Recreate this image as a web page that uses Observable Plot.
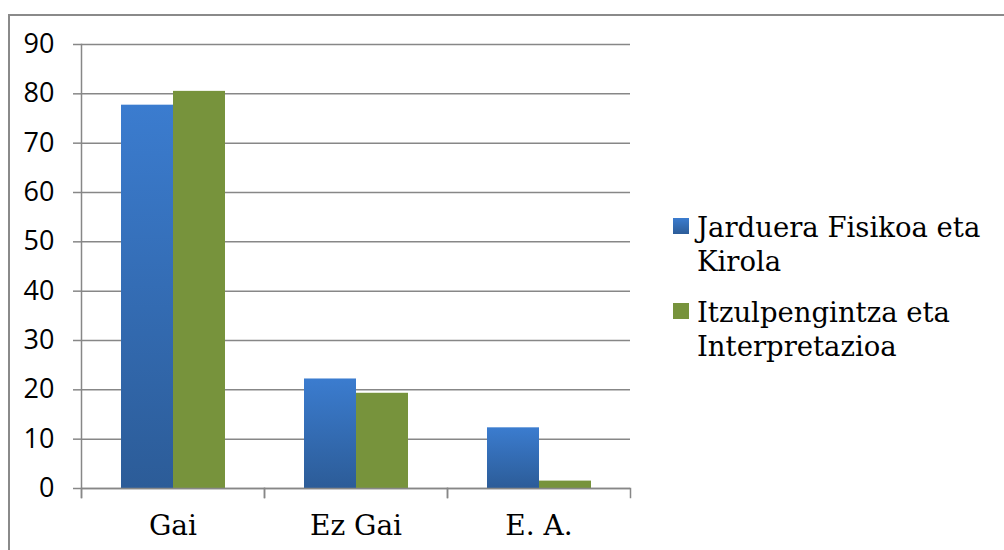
<!DOCTYPE html>
<html>
<head>
<meta charset="utf-8">
<script src="https://cdn.jsdelivr.net/npm/d3@7"></script>
<script src="https://cdn.jsdelivr.net/npm/@observablehq/plot@0.6"></script>
<style>
  html, body { margin: 0; padding: 0; background: #fff; width: 1004px; height: 550px; overflow: hidden; }
  #frame { position: absolute; left: 8px; top: 14px; width: 1010px; height: 560px; border: 2px solid #8a8a8a; box-sizing: border-box; }
  #chart { position: absolute; left: 0; top: 0; }
  #legend { position: absolute; left: 673px; top: 210px; font-family: "DejaVu Serif", serif; font-size: 27.5px; line-height: 34px; color: #000; }
  .item { position: relative; padding-left: 24px; margin-bottom: 16.5px; width: 330px; }
  .sw { position: absolute; left: 0; top: 8px; width: 16px; height: 16px; }
</style>
</head>
<body>
<svg width="0" height="0" style="position:absolute">
  <defs>
    <linearGradient id="blueGrad" x1="0" y1="0" x2="0" y2="1">
      <stop offset="0" stop-color="#3b7ccf"/>
      <stop offset="1" stop-color="#2c5c98"/>
    </linearGradient>
  </defs>
</svg>
<div id="frame"></div>
<div id="chart"></div>
<div id="legend"></div>
<script>
const categories = ["Gai", "Ez Gai", "E. A."];
const seriesNames = ["Jarduera Fisikoa eta Kirola", "Itzulpengintza eta Interpretazioa"];
const seriesA = [77.7, 22.2, 12.3];
const seriesB = [80.5, 19.3, 1.5];
const yTicks = [0, 10, 20, 30, 40, 50, 60, 70, 80, 90];
const seriesColors = ["url(#blueGrad)", "#77933c"];
const legendColors = ["linear-gradient(#3b7ccf, #2c5c98)", "#77933c"];

const data = categories.flatMap((c, i) => [
  {cat: c, series: seriesNames[0], value: seriesA[i]},
  {cat: c, series: seriesNames[1], value: seriesB[i]}
]);

const W = 640, H = 550, mT = 44, mB = 62;
const innerH = H - mT - mB;
const gray = "#878787";

const chart = Plot.plot({
  width: W, height: H,
  marginLeft: 80, marginRight: 10, marginTop: mT, marginBottom: mB,
  style: {background: "transparent", color: "#000"},
  fx: {domain: categories, padding: 0, label: null},
  x: {domain: seriesNames, paddingInner: 0, paddingOuter: 0.746, axis: null},
  y: {domain: [0, 90], label: null},
  color: {domain: seriesNames, range: seriesColors},
  marks: [
    Plot.gridY(yTicks, {stroke: gray, strokeOpacity: 1, strokeWidth: 1.5}),
    Plot.axisY(yTicks, {tickSize: 8, tickPadding: 19, stroke: gray, strokeOpacity: 1, strokeWidth: 1.5,
      fontFamily: "Open Sans, sans-serif", fontSize: 27, fill: "#000", label: null}),
    Plot.axisFx({anchor: "bottom", tickSize: 0, tickPadding: 27, fontFamily: "DejaVu Serif, serif", fontSize: 28, fill: "#000", label: null}),
    Plot.barY(data, {fx: "cat", x: "series", y: "value", fill: "series"}),
    Plot.ruleY([0], {stroke: gray, strokeWidth: 1.5}),
    Plot.frame({anchor: "left", insetTop: innerH, insetBottom: -9, stroke: gray, strokeWidth: 1.5}),
    Plot.frame({anchor: "right", insetTop: innerH, insetBottom: -9, stroke: gray, strokeWidth: 1.5}),
    Plot.frame({anchor: "left", insetBottom: -9, stroke: gray, strokeWidth: 1.5, fx: () => categories[0]})
  ]
});
document.getElementById("chart").appendChild(chart);

const legend = document.getElementById("legend");
seriesNames.forEach((name, i) => {
  const item = document.createElement("div");
  item.className = "item";
  const sw = document.createElement("div");
  sw.className = "sw";
  sw.style.background = legendColors[i];
  item.appendChild(sw);
  const t = document.createElement("span");
  t.textContent = name;
  item.appendChild(t);
  legend.appendChild(item);
});
</script>
</body>
</html>
